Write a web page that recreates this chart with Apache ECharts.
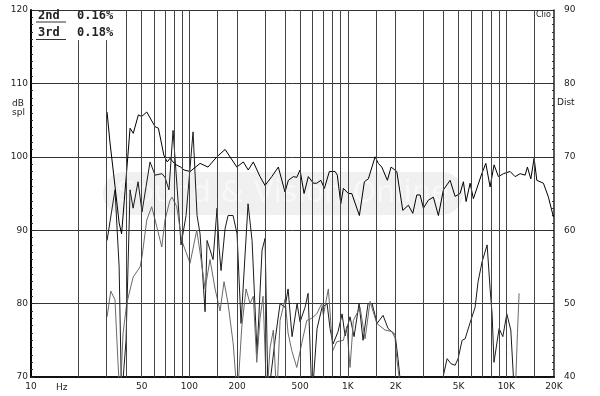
<!DOCTYPE html>
<html><head><meta charset="utf-8">
<script src="https://cdn.jsdelivr.net/npm/echarts@6/dist/echarts.min.js"></script>
<style>html,body{margin:0;padding:0;background:#fff}#c{width:600px;height:396px}</style>
</head><body><div id="c"></div>
<script>
// Frequency response (dB spl, left axis)
const respFreq = [30.2, 31.5, 33.9, 36, 37.3, 39.8, 42.2, 44.2, 47.6, 50, 53.8, 60.7, 63.7, 69, 72.5, 75.4, 81, 88, 92.4, 101, 116.7, 131, 149, 168, 199, 219, 235, 253, 279, 300, 331, 364, 401, 421, 453, 476, 499, 529, 563, 606, 636, 675, 711, 764, 830, 858, 902, 937, 1007, 1058, 1182, 1271, 1347, 1485, 1558, 1637, 1776, 1874, 2036, 2221, 2409, 2569, 2722, 2857, 2997, 3223, 3465, 3727, 4009, 4418, 4751, 5109, 5360, 5575, 5908, 6199, 7003, 7424, 7901, 8375, 8916, 9588, 10568, 11365, 12222, 13144, 13590, 14276, 14982, 15580, 17150, 18445, 19833];
const respDb = [106.1, 102, 96, 91, 89.5, 97, 103.9, 103.2, 105.7, 105.5, 106.1, 104.1, 103.9, 100.2, 99.3, 99.8, 99, 98.6, 98.2, 98.0, 99.1, 98.6, 100, 101, 98.6, 99.3, 98.2, 99.3, 97.3, 96.1, 97.3, 98.6, 95.2, 96.8, 97.3, 97.2, 98.2, 95.0, 97.3, 96.4, 96.4, 96.8, 95.7, 98.0, 98.0, 97.5, 93.6, 95.7, 95.0, 95.0, 92.0, 96.6, 97.0, 100.0, 99.1, 98.6, 96.8, 98.6, 98.0, 92.7, 93.4, 92.3, 94.8, 94.8, 93.0, 94.1, 94.5, 92.0, 95.5, 96.8, 94.6, 95.0, 96.6, 93.9, 96.4, 94.3, 97.7, 99.1, 95.9, 98.9, 97.3, 97.7, 98.0, 97.3, 97.7, 97.5, 98.6, 97.0, 99.8, 96.8, 96.4, 94.5, 91.8];

// 3rd harmonic (Dist, right axis)
const h3Freq = [30.2, 33.9, 36, 37.3, 39.8, 42.2, 44.1, 47.4, 50.2, 56.4, 60.7, 67.1, 70.1, 74.3, 78.8, 83.5, 88.5, 95.2, 105.4, 111.7, 116.7, 125.5, 129.2, 141, 149.4, 153.8, 158.3, 167.8, 175.3, 188.5, 199.8, 211.7, 234.4, 248.5, 267.2, 287.3, 300.2, 313.5, 347.1, 373.3, 401.4, 419.3, 444.4, 477.9, 499.1, 536.8, 560.8, 594.3, 639.1, 687.2, 739.1, 771.9, 806.7, 867.4, 919.2, 960.1, 1032, 1094, 1177, 1247, 1341, 1422, 1529, 1668, 1794, 1986, 2075, 2199, 3820, 3990, 4230, 4483, 4752, 4963, 5260, 5495, 5910, 6353, 6637, 7035, 7568, 7901, 8135, 8360, 9006, 9506, 10074, 10676, 11088, 11365];
const h3Dist = [58.6, 65.5, 55, 37, 45, 65.5, 63, 66.6, 62.5, 69.3, 67.5, 67.7, 67.2, 65.5, 73.6, 66, 58, 62, 73.4, 62, 59.5, 48.9, 58.6, 56, 63, 57.7, 54.5, 60.2, 62, 62, 59.5, 47.3, 63.6, 58.6, 43.2, 57.3, 58.9, 37, 45, 50, 49.5, 52, 45.5, 50, 47.5, 49.5, 51.4, 37, 46.6, 49.5, 50, 46.6, 44.5, 46.2, 48.6, 45.6, 48.2, 45.5, 50, 45, 50, 50, 47.3, 48.4, 46.6, 45.8, 42.4, 37, 37, 40, 42.5, 41.8, 41.6, 42.5, 45, 45.2, 47.4, 49.5, 53, 55.7, 58, 52, 48.6, 42, 46.6, 45.5, 48.6, 46.4, 40, 37];

// 2nd harmonic (Dist, right axis)
const h2Freq = [30.2, 31.9, 33.9, 35.4, 36.5, 38.1, 40.2, 44.1, 48.8, 50.2, 53.8, 57.8, 62.2, 66.9, 70.1, 75.4, 77.7, 83.2, 89.4, 95.2, 100.9, 111.2, 116.7, 125.5, 134.9, 145.1, 156.1, 165.4, 175.3, 189, 200.7, 213.9, 227.7, 241.4, 253, 266, 279.1, 291.5, 307.6, 322.8, 338.6, 355.7, 373.3, 401.4, 419.3, 442.5, 475.8, 511.6, 550.3, 591.9, 636.3, 684.3, 700.4, 753.1, 803.1, 851.1, 936.7, 984.2, 1032, 1083, 1194, 1284, 1381, 1522, 1717, 1893, 1986, 2036, 2189, 11365, 11752, 12043];
const h2Dist = [48.2, 51.7, 50.5, 42, 37, 45.9, 50, 53.6, 55, 56.4, 61.4, 63.2, 60.5, 57.7, 61.4, 64.1, 64.5, 63.2, 58.6, 57, 55.5, 60, 57, 52, 56, 52, 49, 53, 50, 44.5, 37, 46.8, 52, 50, 51, 42, 48, 51, 37, 44, 46.4, 37, 47.7, 50.6, 46, 43.6, 41.3, 44.6, 47.7, 48, 48.6, 50, 48.4, 52, 43.6, 44.8, 45, 46.9, 41.3, 47.7, 49.5, 45.2, 50.3, 47.3, 46.4, 46.2, 45.3, 42.5, 37, 37, 45.9, 51.4];

// Vertical grid / axis labels
const gridFreqs = [40, 50, 60, 70, 80, 90, 100, 150, 200, 300, 400, 500, 600, 700, 800, 900, 1000, 1500, 2000, 3000, 4000, 5000, 6000, 7000, 8000, 9000, 10000, 15000];
const gridFreqsUnderLegend = [20, 30];
const legendBottomDb = 115.9;
const xLabelFreqs = [10, 50, 100, 200, 500, 1000, 2000, 5000, 10000, 20000];
const xLabelTexts = ['10', '50', '100', '200', '500', '1K', '2K', '5K', '10K', '20K'];
const legendNames = ['2nd', '3rd'];
const legendValues = ['0.16%', '0.18%'];

function xFmt(v) {
  let best = 0, bd = Infinity;
  for (let i = 0; i < xLabelFreqs.length; i++) {
    const d = Math.abs(Math.log10(v) - Math.log10(xLabelFreqs[i]));
    if (d < bd) { bd = d; best = i; }
  }
  return xLabelTexts[best];
}
const pair = (f, v) => f.map((x, i) => [x, v[i]]);
const vLines = gridFreqs.map(f => [{coord: [f, 70]}, {coord: [f, 120]}])
  .concat(gridFreqsUnderLegend.map(f => [{coord: [f, 70]}, {coord: [f, legendBottomDb]}]));

const FONT = '"DejaVu Sans"';
const LFONT = 'bold 12px "DejaVu Sans Mono"';
const chart = echarts.init(document.getElementById('c'), null, {renderer: 'canvas'});
chart.setOption({
  animation: false,
  backgroundColor: '#fff',
  grid: {left: 31, right: 46, top: 10, bottom: 19},
  xAxis: {
    type: 'log', logBase: 10, min: 10, max: 20000, position: 'bottom',
    axisLine: {show: true, onZero: false, lineStyle: {color: '#111', width: 2}},
    axisTick: {show: false},
    axisLabel: {show: true, customValues: xLabelFreqs, formatter: xFmt, color: '#222', fontSize: 9, fontFamily: FONT, margin: 5},
    splitLine: {show: false}, minorTick: {show: false}, minorSplitLine: {show: false}
  },
  yAxis: [{
    type: 'value', min: 70, max: 120, interval: 10, position: 'left',
    axisLine: {show: true, onZero: false, lineStyle: {color: '#000', width: 2}},
    axisTick: {show: true, inside: true, length: 4, lineStyle: {color: '#222'}},
    minorTick: {show: true, splitNumber: 10, length: 2, lineStyle: {color: '#333'}},
    axisLabel: {color: '#222', fontSize: 9, fontFamily: FONT, margin: 3},
    splitLine: {show: true, lineStyle: {color: '#333', width: 1}}
  }, {
    type: 'value', min: 40, max: 90, interval: 10, position: 'right',
    axisLine: {show: true, onZero: false, lineStyle: {color: '#222', width: 1.5}},
    axisTick: {show: true, inside: true, length: 3, lineStyle: {color: '#222'}},
    minorTick: {show: true, splitNumber: 10, length: 2, lineStyle: {color: '#333'}},
    axisLabel: {color: '#222', fontSize: 9, fontFamily: FONT, margin: 10},
    splitLine: {show: false}
  }],
  series: [{
    name: 'grid', type: 'line', yAxisIndex: 0, data: [], z: 1,
    markLine: {
      silent: true, symbol: 'none', label: {show: false}, animation: false,
      lineStyle: {color: '#444', width: 1, type: 'solid'},
      data: vLines
    }
  }, {
    name: 'Response', type: 'line', yAxisIndex: 0, data: pair(respFreq, respDb),
    showSymbol: false, symbol: 'none', clip: true, z: 4,
    lineStyle: {color: '#000', width: 1}
  }, {
    name: '3rd', type: 'line', yAxisIndex: 1, data: pair(h3Freq, h3Dist),
    showSymbol: false, symbol: 'none', clip: true, z: 3,
    lineStyle: {color: '#1a1a1a', width: 1}
  }, {
    name: '2nd', type: 'line', yAxisIndex: 1, data: pair(h2Freq, h2Dist),
    showSymbol: false, symbol: 'none', clip: true, z: 3,
    lineStyle: {color: '#6a6a6a', width: 1}
  }],
  graphic: [
    {type: 'text', x: 38, y: 16, style: {text: legendNames[0], font: LFONT, fill: '#222', verticalAlign: 'middle'}},
    {type: 'text', x: 77, y: 16, style: {text: legendValues[0], font: LFONT, fill: '#222', verticalAlign: 'middle'}},
    {type: 'text', x: 38, y: 33, style: {text: legendNames[1], font: LFONT, fill: '#222', verticalAlign: 'middle'}},
    {type: 'text', x: 77, y: 33, style: {text: legendValues[1], font: LFONT, fill: '#222', verticalAlign: 'middle'}},
    {type: 'line', shape: {x1: 36, y1: 22, x2: 66, y2: 22}, style: {stroke: '#333', lineWidth: 1}},
    {type: 'line', shape: {x1: 36, y1: 39.5, x2: 66, y2: 39.5}, style: {stroke: '#333', lineWidth: 1}},
    {type: 'text', x: 12, y: 104, style: {text: 'dB', font: '9px ' + FONT, fill: '#222', verticalAlign: 'middle'}},
    {type: 'text', x: 12, y: 113, style: {text: 'spl', font: '9px ' + FONT, fill: '#222', verticalAlign: 'middle'}},
    {type: 'text', x: 557, y: 103, style: {text: 'Dist', font: '9px ' + FONT, fill: '#222', verticalAlign: 'middle'}},
    {type: 'text', x: 536, y: 15, style: {text: 'Clio', font: '8px ' + FONT, fill: '#222', verticalAlign: 'middle'}},
    {type: 'text', x: 56, y: 388, style: {text: 'Hz', font: '9px ' + FONT, fill: '#222', verticalAlign: 'middle'}},
    {type: 'rect', shape: {x: 103, y: 172, width: 360, height: 43, r: 21}, style: {fill: 'rgba(0,0,0,0.06)'}},
    {type: 'text', x: 283, y: 194, style: {text: 'Sound & Vision Online', font: '30px ' + FONT, fill: 'rgba(255,255,255,0.5)', align: 'center', verticalAlign: 'middle'}}
  ]
});
</script>
</body></html>
